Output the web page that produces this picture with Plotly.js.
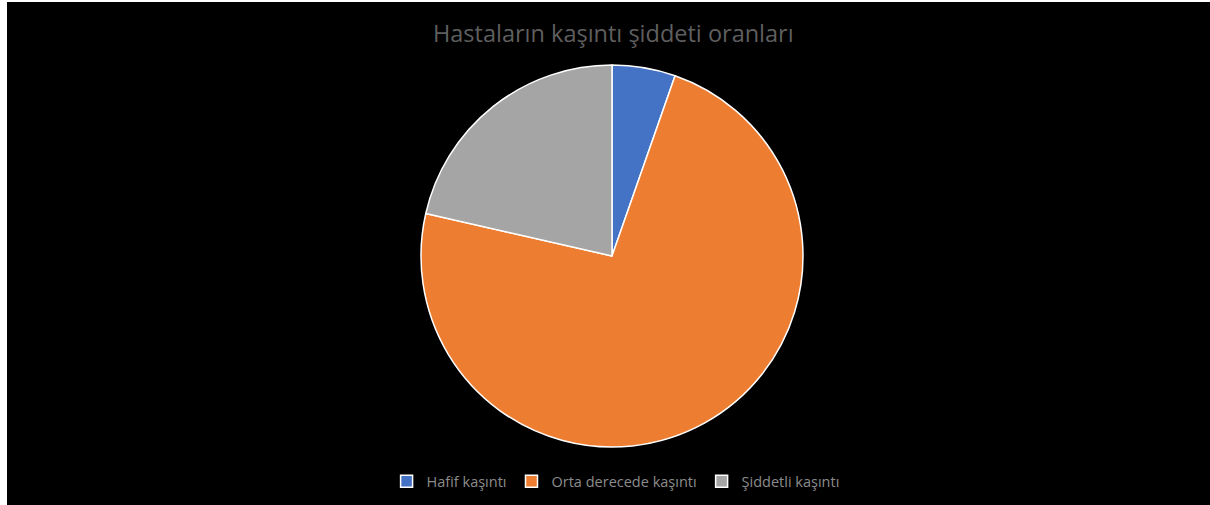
<!DOCTYPE html>
<html>
<head>
<meta charset="utf-8">
<script src="https://cdn.plot.ly/plotly-3.0.1.min.js"></script>
<style>
  html, body { margin: 0; padding: 0; background: #ffffff; width: 1210px; height: 505px; overflow: hidden; }
  #chart { position: absolute; left: 7px; top: 2px; width: 1203px; height: 503px; }
</style>
</head>
<body>
<div id="chart"></div>
<script>
const categories = ["Hafif kaşıntı", "Orta derecede kaşıntı", "Şiddetli kaşıntı"];
const values = [3, 41, 12];
const colors = ["#4472C4", "#ED7D31", "#A5A5A5"];
const titleText = "Hastaların kaşıntı şiddeti oranları";

const data = [{
  type: "pie",
  labels: categories,
  values: values,
  sort: false,
  direction: "clockwise",
  rotation: 0,
  textinfo: "none",
  hoverinfo: "label+percent",
  marker: { colors: colors, line: { color: "#ffffff", width: 1.5 } }
}];

const layout = {
  width: 1203,
  height: 503,
  paper_bgcolor: "#000000",
  plot_bgcolor: "#000000",
  margin: { l: 7, r: 0, t: 63, b: 58, autoexpand: false },
  title: {
    text: titleText,
    font: { family: "Open Sans, Liberation Sans, sans-serif", size: 23.5, color: "#5f5f5f" },
    x: 0.504, xanchor: "center",
    y: 0.937, yanchor: "middle", yref: "container"
  },
  showlegend: true,
  legend: {
    orientation: "h",
    x: 0.503, xanchor: "center",
    y: -0.09, yanchor: "middle",
    font: { family: "Open Sans, Liberation Sans, sans-serif", size: 14.5, color: "#8c8c8c" },
    itemwidth: 30,
    traceorder: "normal",
    bgcolor: "rgba(0,0,0,0)"
  }
};

Plotly.newPlot("chart", data, layout, { displayModeBar: false, staticPlot: true });
</script>
</body>
</html>
